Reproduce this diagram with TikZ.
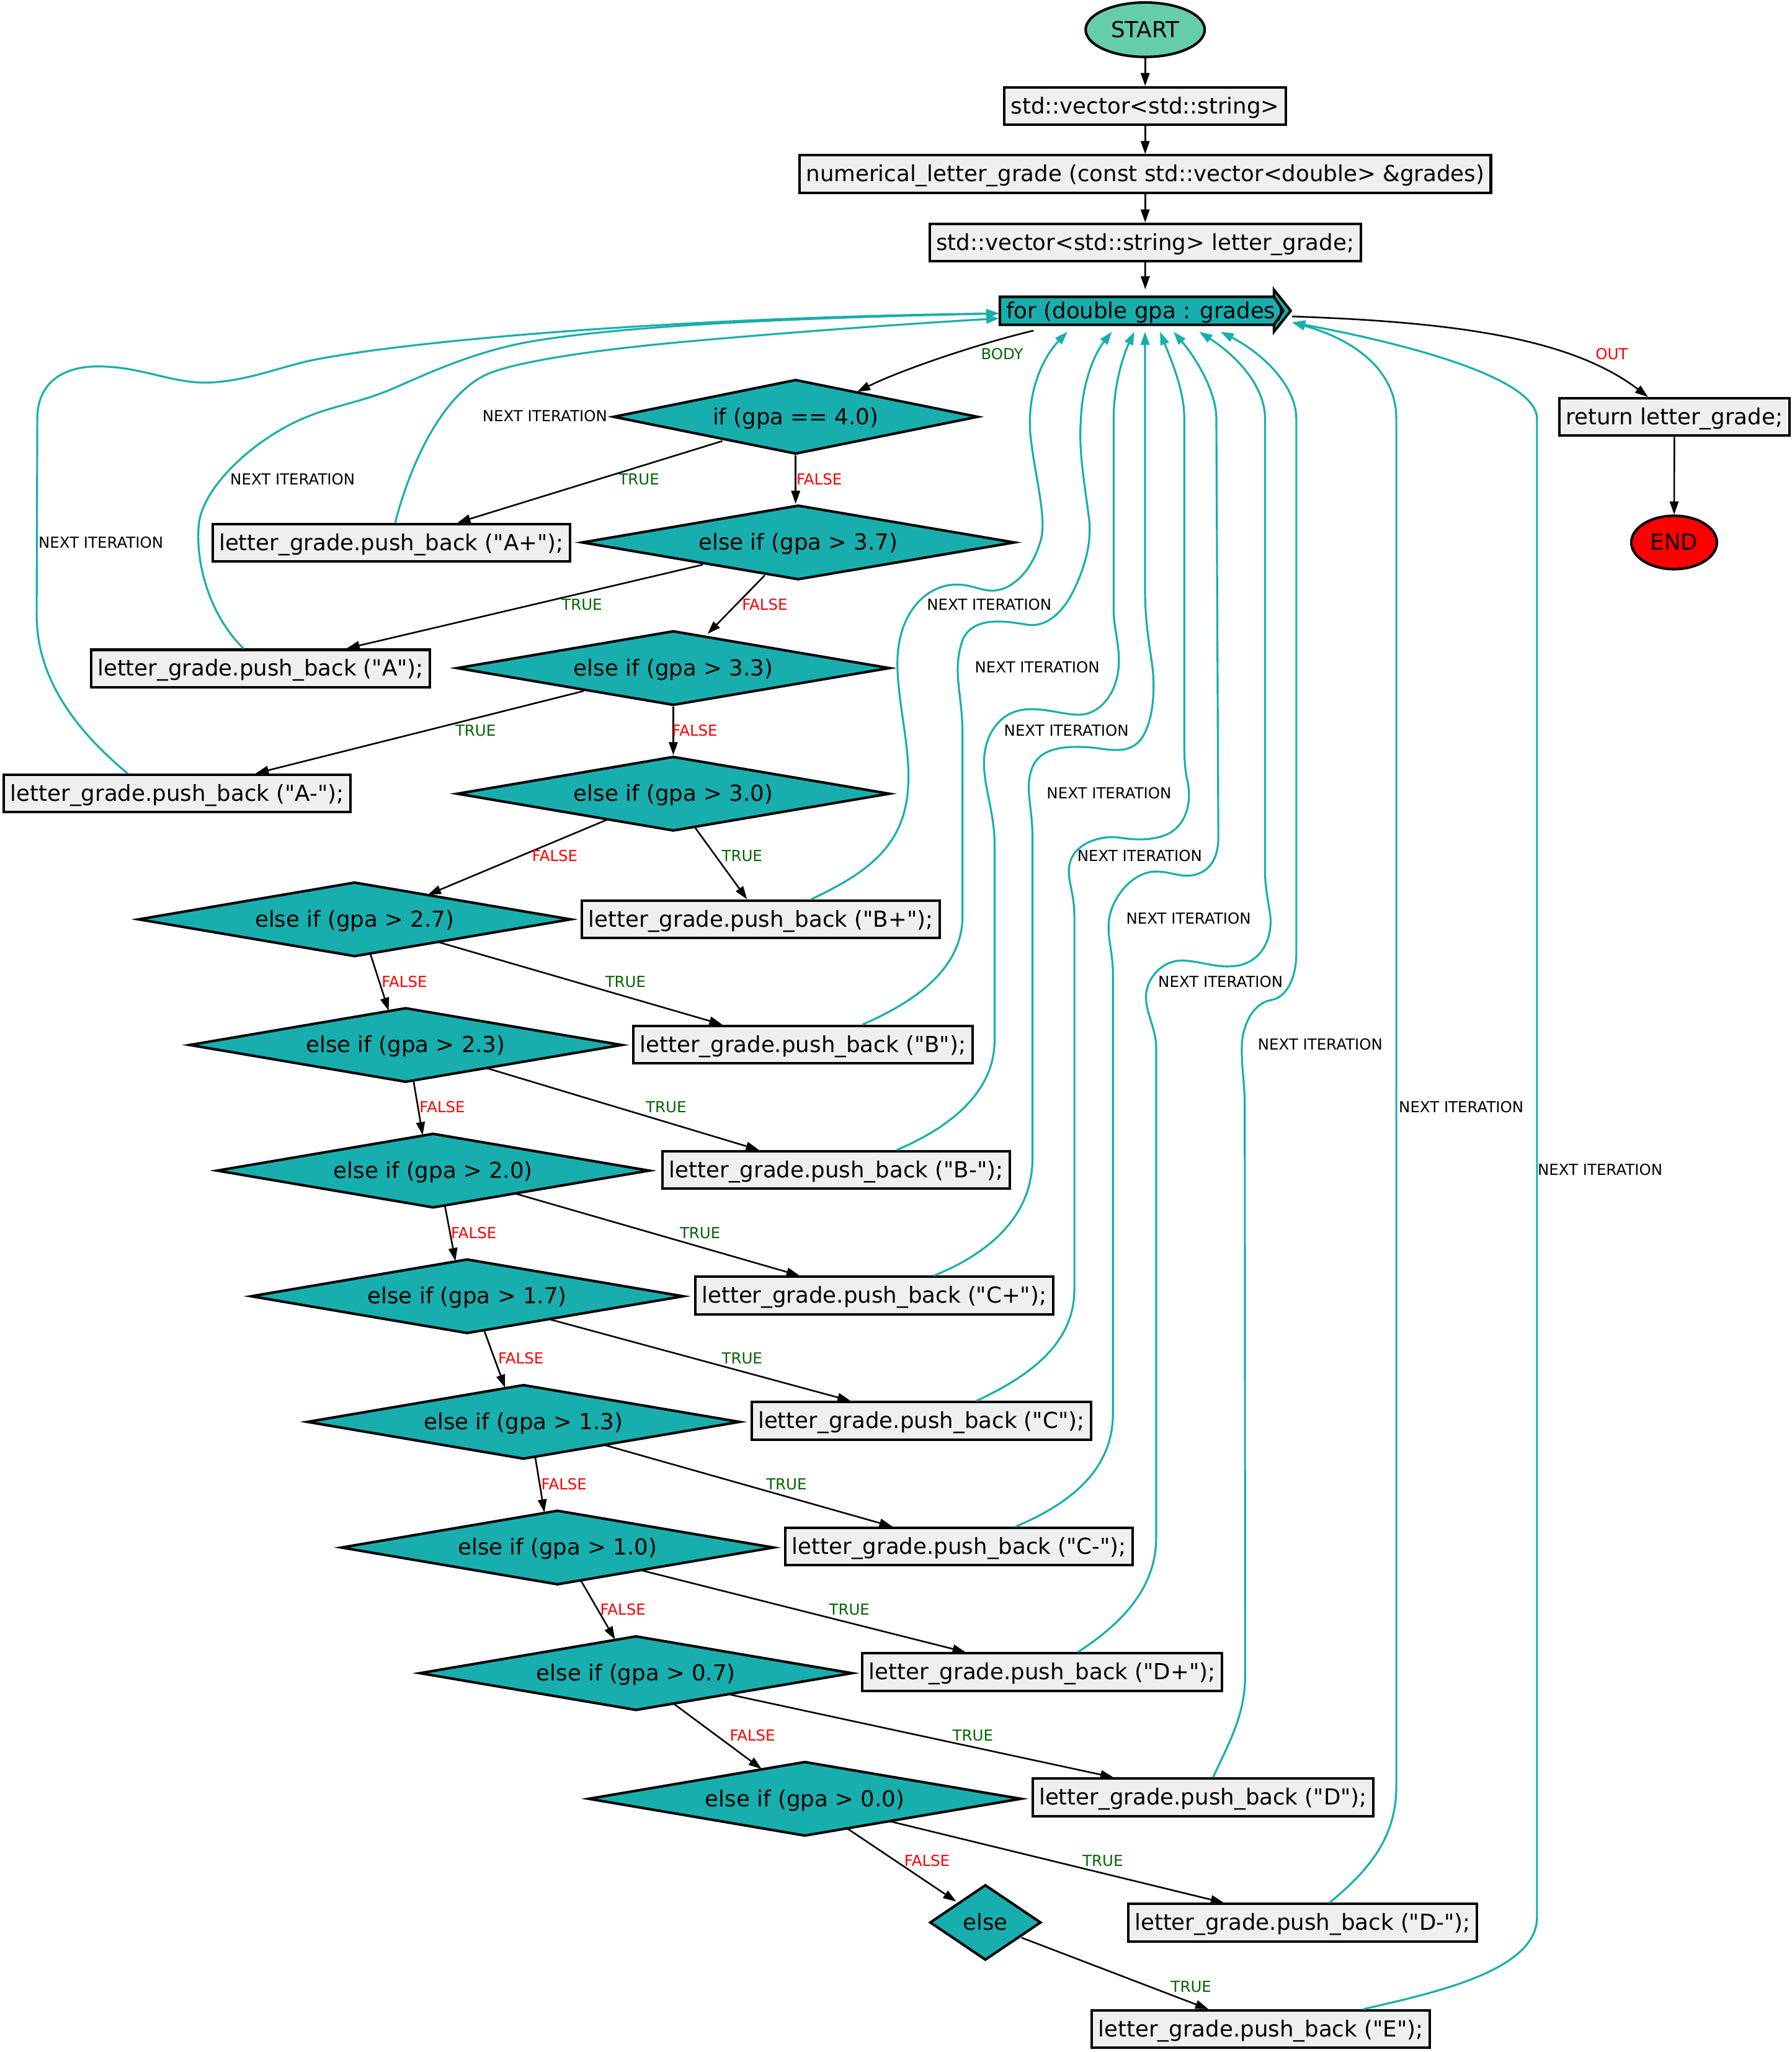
\documentclass[tikz,border=0pt]{standalone}
\usepackage{fontspec}
\setmainfont{DejaVu Sans}[Ligatures=TeXOff]
\usetikzlibrary{shapes.geometric,arrows.meta,calc,backgrounds}

\definecolor{loopteal}{RGB}{24,174,174}
\definecolor{stmtfill}{RGB}{239,239,239}
\definecolor{startfill}{RGB}{102,205,170}
\definecolor{truegreen}{RGB}{0,100,0}
\definecolor{falsered}{RGB}{255,0,0}

\tikzset{
  txt/.style={font=\fontsize{9.6}{11}\selectfont, text height=7pt, text depth=0.4pt},
  stmt/.style={txt, rectangle, draw, line width=1.1pt, fill=stmtfill, minimum height=0.572cm, inner xsep=0.1cm, inner ysep=0pt},
  cond/.style={txt, diamond, draw, line width=1.1pt, fill=loopteal, aspect=5.8, inner sep=0pt, minimum height=1.14cm, minimum width=6.62cm},
  terminal/.style={txt, ellipse, draw, line width=1.1pt, inner sep=0pt},
  flow/.style={draw=black, line width=0.7pt, -{Triangle[length=0.2cm,width=0.134cm]}},
  loopback/.style={draw=loopteal, line width=0.85pt, -{Triangle[length=0.2cm,width=0.134cm]}},
  lbl/.style={font=\fontsize{6.6}{8}\selectfont, inner sep=0pt, text height=4.8pt, text depth=0pt},
  nextlbl/.style={lbl},
  truelbl/.style={lbl, text=truegreen},
  falselbl/.style={lbl, text=falsered},
}

\begin{document}
\begin{tikzpicture}[x=0.02cm, y=-0.02cm]
\useasboundingbox (0,0) rectangle (1369,1568);

% ---------- entry chain ----------
\node[terminal, fill=startfill, minimum width=1.82cm, minimum height=0.832cm] (start) at (875.1,22.7) {START};
\node[stmt] (vec)  at (875.1,81)    {std::vector<std::string>};
\node[stmt] (func) at (875.1,133)   {numerical\_letter\_grade (const std::vector<double> \&grades)};
\node[stmt] (decl) at (875.1,185.3) {std::vector<std::string> letter\_grade;};

% loop header (flag shape drawn behind the text)
\node[txt, inner sep=0pt, minimum width=4.446cm, minimum height=0.642cm] (for) at (875.15,237.45) {for (double gpa : grades)};
\begin{scope}[on background layer]
  \draw[line width=1.1pt, fill=loopteal]
    ($(for)+(-111.15,-10.65)$) -- ($(for)+(98.35,-10.65)$) -- ($(for)+(98.35,-16.05)$)
    -- ($(for)+(111.15,0)$) -- ($(for)+(98.35,16.05)$) -- ($(for)+(98.35,10.75)$)
    -- ($(for)+(-111.15,10.75)$) -- cycle;
  \draw[line width=1.1pt] ($(for)+(98.35,-10.65)$) -- ($(for)+(105.5,0)$) -- ($(for)+(98.35,10.75)$);
\end{scope}

\node[stmt] (ret) at (1279.5,318.6) {return letter\_grade;};
\node[terminal, fill=red, minimum width=1.308cm, minimum height=0.816cm] (end) at (1279.3,414.5) {END};

% ---------- decision chain ----------
\node[cond, minimum width=5.578cm] (c40) at (608,318.5) {if (gpa == 4.0)};
\node[cond] (c37) at (610,414.5)   {else if (gpa > 3.7)};
\node[cond] (c33) at (514.5,510.5) {else if (gpa > 3.3)};
\node[cond] (c30) at (514.5,606.5) {else if (gpa > 3.0)};
\node[cond] (c27) at (271,702.5)   {else if (gpa > 2.7)};
\node[cond] (c23) at (310,798.5)   {else if (gpa > 2.3)};
\node[cond] (c20) at (331,894.5)   {else if (gpa > 2.0)};
\node[cond] (c17) at (357,990.5)   {else if (gpa > 1.7)};
\node[cond] (c13) at (400,1086.5)  {else if (gpa > 1.3)};
\node[cond] (c10) at (426,1182.5)  {else if (gpa > 1.0)};
\node[cond] (c07) at (486,1278.5)  {else if (gpa > 0.7)};
\node[cond] (c00) at (615,1374.5)  {else if (gpa > 0.0)};
\node[cond, aspect=1.5, minimum width=1.7cm, minimum height=1.152cm] (celse) at (753,1469) {else};

% ---------- assignments ----------
\node[stmt] (Ap) at (299,414.7)    {letter\_grade.push\_back ("A+");};
\node[stmt] (A)  at (199.1,510.8)  {letter\_grade.push\_back ("A");};
\node[stmt] (Am) at (135.4,606.3)  {letter\_grade.push\_back ("A-");};
\node[stmt] (Bp) at (581.4,702.4)  {letter\_grade.push\_back ("B+");};
\node[stmt] (B)  at (613.5,798.2)  {letter\_grade.push\_back ("B");};
\node[stmt] (Bm) at (639,894)      {letter\_grade.push\_back ("B-");};
\node[stmt] (Cp) at (668,990)      {letter\_grade.push\_back ("C+");};
\node[stmt] (C)  at (704,1085.7)   {letter\_grade.push\_back ("C");};
\node[stmt] (Cm) at (733,1181.8)   {letter\_grade.push\_back ("C-");};
\node[stmt] (Dp) at (796.4,1277.7) {letter\_grade.push\_back ("D+");};
\node[stmt] (D)  at (919.3,1373.4) {letter\_grade.push\_back ("D");};
\node[stmt] (Dm) at (995.4,1469.2) {letter\_grade.push\_back ("D-");};
\node[stmt] (E)  at (963.4,1550.5) {letter\_grade.push\_back ("E");};

% ---------- straight flow ----------
\draw[flow] (start.south) -- (vec.north);
\draw[flow] (vec.south) -- (func.north);
\draw[flow] (func.south) -- (decl.north);
\draw[flow] (decl.south) -- (for.north);
\draw[flow] (ret.south) -- (end.north);

% loop body / loop exit
\coordinate (bodyS) at ($(for)+(-85.25,15.15)$);
\coordinate (bodyE) at ($(c40)+(47,-19.1)$);
\draw[flow] (bodyS) .. controls (750,262) and (690,282) .. (bodyE);
\coordinate (outS) at ($(for)+(112.25,4.35)$);
\coordinate (outE) at ($(ret.north)+(-20.1,0)$);
\draw[flow] (outS) .. controls (1110,246) and (1200,258) .. (outE);

% ---------- branches ----------
\draw[flow] ($(c40)+(-56,18.5)$) -- ($(Ap.north)+(50.5,0)$);
\draw[flow] (c40.south) -- (c40.south |- c37.north);
\draw[flow] ($(c37)+(-73,17)$) -- ($(A.north)+(65.7,0)$);
\draw[flow] ($(c37)+(-25.6,25.1)$) -- ($(c33)+(26.2,-26.1)$);
\draw[flow] ($(c33)+(-68.4,17.5)$) -- ($(Am.north)+(59.9,0)$);
\draw[flow] (c33.south) -- (c30.north);
\draw[flow] ($(c30)+(16.5,25.7)$) -- ($(Bp.north)+(-10.5,0)$);
\draw[flow] ($(c30)+(-50.5,19.8)$) -- ($(c27)+(56,-18.8)$);
\draw[flow] ($(c27)+(64,17.4)$) -- ($(B.north)+(-61.5,0)$);
\draw[flow] ($(c27)+(12,26.4)$) -- ($(c23)+(-13,-26.2)$);
\draw[flow] ($(c23)+(62,17.7)$) -- ($(Bm.north)+(-59,0)$);
\draw[flow] ($(c23)+(6,27.5)$) -- ($(c20)+(-8,-27.1)$);
\draw[flow] ($(c20)+(63,17.6)$) -- ($(Cp.north)+(-57,0)$);
\draw[flow] ($(c20)+(9,26.9)$) -- ($(c17)+(-9,-26.9)$);
\draw[flow] ($(c17)+(63,17.6)$) -- ($(C.north)+(-54,0)$);
\draw[flow] ($(c17)+(13,26.2)$) -- ($(c13)+(-14,-26.1)$);
\draw[flow] ($(c13)+(62,17.7)$) -- ($(Cm.north)+(-51,0)$);
\draw[flow] ($(c13)+(9,26.9)$) -- ($(c10)+(-10,-26.8)$);
\draw[flow] ($(c10)+(64,17.4)$) -- ($(Dp.north)+(-58.5,0)$);
\draw[flow] ($(c10)+(18,25.4)$) -- ($(c07)+(-16,-25.7)$);
\draw[flow] ($(c07)+(71,16.2)$) -- ($(D.north)+(-68.4,0)$);
\draw[flow] ($(c07)+(29,23.5)$) -- ($(c00)+(-33,-22.8)$);
\draw[flow] ($(c00)+(65,17.2)$) -- ($(Dm.north)+(-60.2,0)$);
\draw[flow] ($(c00)+(32.6,22.8)$) -- ($(celse)+(-22.3,-16)$);
\draw[flow] ($(celse)+(27.6,11.6)$) -- ($(E.north)+(-40,0)$);

% ---------- loop-back connectors ----------
\coordinate (forL1) at ($(for)+(-111.5,2.05)$);
\coordinate (forL2) at ($(for)+(-111.5,5.85)$);
\coordinate (forR)  at ($(for)+(112.15,8.95)$);
\coordinate (forB1) at ($(for)+(-59.45,16.05)$);
\coordinate (forB2) at ($(for)+(-25.45,16.05)$);
\coordinate (forB3) at ($(for)+(-8.25,16.05)$);
\coordinate (forB4) at ($(for)+(-0.15,16.05)$);
\coordinate (forB5) at ($(for)+(11.25,16.05)$);
\coordinate (forB6) at ($(for)+(21.65,16.05)$);
\coordinate (forB7) at ($(for)+(41.25,16.05)$);
\coordinate (forB8) at ($(for)+(57.55,16.05)$);

\coordinate (ApS) at ($(Ap.north)+(3,0)$);
\coordinate (AS)  at ($(A.north)+(-13,0)$);
\coordinate (AmS) at ($(Am.north)+(-37.8,0)$);
\coordinate (BpS) at ($(Bp.north)+(38.6,0)$);
\coordinate (BS)  at ($(B.north)+(45.5,0)$);
\coordinate (BmS) at ($(Bm.north)+(46.2,0)$);
\coordinate (CpS) at ($(Cp.north)+(45.7,0)$);
\coordinate (CS)  at ($(C.north)+(42.2,0)$);
\coordinate (CmS) at ($(Cm.north)+(43.1,0)$);
\coordinate (DpS) at ($(Dp.north)+(27.3,0)$);
\coordinate (DS)  at ($(D.north)+(7.7,0)$);
\coordinate (DmS) at ($(Dm.north)+(20.5,0)$);
\coordinate (ES)  at ($(E.north)+(78.4,0)$);

% left side, entering the header from the west
\draw[loopback] (ApS) .. controls (312,360) and (335,305) .. (370,287)
  .. controls (390,277) and (450,268) .. (514,262)
  .. controls (600,254) and (700,247) .. (forL2);
\draw[loopback] (AS) .. controls (160,470) and (149,430) .. (152,400)
  .. controls (155,375) and (185,345) .. (216,327.5)
  .. controls (247,310) and (270,310) .. (300,297)
  .. controls (330,284) and (360,270) .. (400,262)
  .. controls (480,247) and (650,242) .. (forL1);
\draw[loopback] (AmS) .. controls (60,560) and (28,520) .. (28,470)
  -- (28.5,320)
  .. controls (28.5,295) and (45,280) .. (75,280)
  .. controls (110,280) and (135,295) .. (165,292)
  .. controls (190,290) and (210,282) .. (235,276)
  .. controls (300,262) and (500,243) .. (forL1);

% middle, entering the header from below
\draw[loopback] (BpS) .. controls (660,668) and (692,648) .. (694,600)
  .. controls (696,570) and (684,530) .. (686,500)
  .. controls (688,470) and (705,450) .. (726,447)
  .. controls (742,445) and (750,453) .. (762,451)
  .. controls (775,449) and (790,435) .. (796,410)
  .. controls (800,390) and (786,345) .. (787,320)
  .. controls (788,290) and (800,270) .. (forB1);
\draw[loopback] (BS) .. controls (700,765) and (735.5,740) .. (735.5,700)
  -- (735.5,560)
  .. controls (735.5,530) and (727,512) .. (736,488)
  .. controls (745,470) and (770,475) .. (786,477.5)
  .. controls (800,479) and (812,468) .. (820,452)
  .. controls (828,436) and (835,415) .. (832,395)
  .. controls (829,370) and (824,345) .. (826,320)
  .. controls (827,295) and (835,272) .. (forB2);
\draw[loopback] (BmS) .. controls (725,862) and (760,835) .. (760,795)
  -- (760,645)
  .. controls (760,620) and (751,600) .. (752,580)
  .. controls (753,560) and (765,543) .. (785,542)
  .. controls (800,541) and (815,547) .. (827,546)
  .. controls (840,545) and (855,530) .. (855,505)
  .. controls (855,490) and (851,480) .. (851,465)
  -- (851,320)
  .. controls (851,295) and (858,272) .. (forB3);
\draw[loopback] (CpS) .. controls (755,958) and (789,930) .. (789,885)
  -- (789,640)
  .. controls (789,615) and (782,600) .. (790,584)
  .. controls (797,571) and (815,570) .. (832,571)
  .. controls (845,572) and (860,577) .. (870,567)
  .. controls (880,557) and (884,530) .. (880,505)
  .. controls (877,485) and (875,470) .. (875,450)
  -- (forB4);
\draw[loopback] (CS) .. controls (790,1050) and (821,1025) .. (821,985)
  -- (821,700)
  .. controls (821,680) and (814,670) .. (818,658)
  .. controls (822,645) and (840,638) .. (855,640)
  .. controls (868,642) and (878,642) .. (888,639)
  .. controls (905,634) and (912,615) .. (907,595)
  .. controls (905.5,587) and (905,580) .. (905,570)
  -- (905,320)
  .. controls (905,300) and (897,280) .. (forB5);
\draw[loopback] (CmS) .. controls (815,1150) and (850.5,1125) .. (850.5,1080)
  -- (850.5,745)
  .. controls (850.5,725) and (845,715) .. (848,700)
  .. controls (851,685) and (865,667) .. (882,666)
  .. controls (893,665.5) and (900,670) .. (910,669)
  .. controls (925,667) and (931,655) .. (931,640)
  -- (929.5,320)
  .. controls (929.5,300) and (915,275) .. (forB6);
\draw[loopback] (DpS) .. controls (855,1242) and (883.5,1215) .. (883.5,1175)
  -- (883.5,800)
  .. controls (883.5,785) and (874,772) .. (876,758)
  .. controls (878,745) and (890,733) .. (905,734)
  .. controls (920,735) and (930,740) .. (945,738)
  .. controls (965,735) and (974,715) .. (970,695)
  .. controls (968,683) and (966.7,675) .. (966.7,665)
  -- (966.7,320)
  .. controls (966.7,295) and (945,272) .. (forB7);
\draw[loopback] (DS) .. controls (940,1330) and (951.5,1310) .. (951.5,1280)
  -- (951.2,845)
  .. controls (951.2,825) and (947,805) .. (950,790)
  .. controls (953,777) and (960,766) .. (972,764)
  .. controls (982,762) and (990,750) .. (990.6,730)
  -- (990.6,320)
  .. controls (990.6,295) and (965,270) .. (forB8);

% right side, entering the header at its point
\draw[loopback] (DmS) .. controls (1045,1430) and (1067,1405) .. (1067,1365)
  -- (1067,320)
  .. controls (1067,280) and (1030,258) .. (forR);
\draw[loopback] (ES) .. controls (1100,1522) and (1174.5,1505) .. (1174.5,1465)
  -- (1174.5,320)
  .. controls (1174.5,285) and (1050,258) .. (forR);

% ---------- edge labels ----------
\node[truelbl]  (lbody) at (765.8,270.4) {BODY};
\node[falselbl] (lout)  at (1231.6,270.4) {OUT};

\node[truelbl]  (t40) at (488.3,366) {TRUE};
\node[falselbl] (f40) at (626,366)   {FALSE};
\node[truelbl]  (t37) at (444.6,462) {TRUE};
\node[falselbl] (f37) at (584.4,462) {FALSE};
\node[truelbl]  (t33) at (363.4,558) {TRUE};
\node[falselbl] (f33) at (530.9,558) {FALSE};
\node[truelbl]  (t30) at (567,654)   {TRUE};
\node[falselbl] (f30) at (424,654)   {FALSE};
\node[truelbl]  (t27) at (478,750)   {TRUE};
\node[falselbl] (f27) at (309,750)   {FALSE};
\node[truelbl]  (t23) at (509,846)   {TRUE};
\node[falselbl] (f23) at (338,846)   {FALSE};
\node[truelbl]  (t20) at (535,942)   {TRUE};
\node[falselbl] (f20) at (362,942)   {FALSE};
\node[truelbl]  (t17) at (567,1038)  {TRUE};
\node[falselbl] (f17) at (398,1038)  {FALSE};
\node[truelbl]  (t13) at (601,1134)  {TRUE};
\node[falselbl] (f13) at (431,1134)  {FALSE};
\node[truelbl]  (t10) at (649,1230)  {TRUE};
\node[falselbl] (f10) at (476,1230)  {FALSE};
\node[truelbl]  (t07) at (743.4,1326) {TRUE};
\node[falselbl] (f07) at (575,1326)  {FALSE};
\node[truelbl]  (t00) at (842.7,1422) {TRUE};
\node[falselbl] (f00) at (708.4,1422) {FALSE};
\node[truelbl]  (tel) at (910.2,1518) {TRUE};

\node[nextlbl] (nAp) at (416.3,318)  {NEXT ITERATION};
\node[nextlbl] (nA)  at (223.6,366)  {NEXT ITERATION};
\node[nextlbl] (nAm) at (77.1,414.5) {NEXT ITERATION};
\node[nextlbl] (nBp) at (755.9,462)  {NEXT ITERATION};
\node[nextlbl] (nB)  at (792.6,510)  {NEXT ITERATION};
\node[nextlbl] (nBm) at (814.9,558)  {NEXT ITERATION};
\node[nextlbl] (nCp) at (847.5,606)  {NEXT ITERATION};
\node[nextlbl] (nC)  at (870.9,654)  {NEXT ITERATION};
\node[nextlbl] (nCm) at (908.2,702)  {NEXT ITERATION};
\node[nextlbl] (nDp) at (932.7,750)  {NEXT ITERATION};
\node[nextlbl] (nD)  at (1008.8,798) {NEXT ITERATION};
\node[nextlbl] (nDm) at (1116.6,846) {NEXT ITERATION};
\node[nextlbl] (nE)  at (1222.7,894) {NEXT ITERATION};
\end{tikzpicture}
\end{document}
